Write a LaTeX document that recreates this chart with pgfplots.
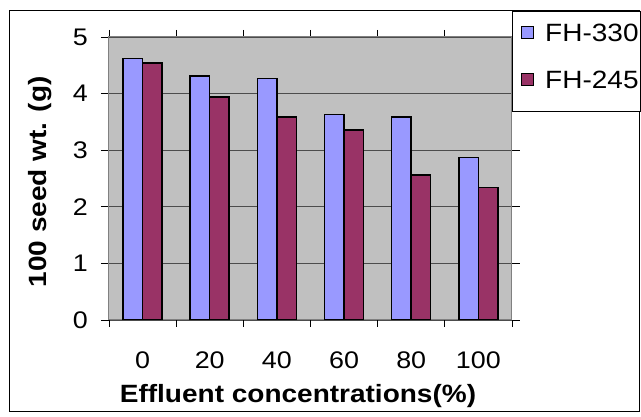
\documentclass[border=0pt]{standalone}
\usepackage{fontspec}
\setmainfont[FakeStretch=1.12]{Liberation Sans}
\usepackage{pgfplots}
\pgfplotsset{compat=1.18}
\definecolor{barA}{HTML}{9999FF}
\definecolor{barB}{HTML}{993366}
\definecolor{plotbg}{HTML}{C0C0C0}
\begin{document}
\begin{tikzpicture}[x=1pt,y=1pt]
\path[use as bounding box] (0,0) rectangle (641,417);
\draw[black, line width=1pt] (9,5) rectangle (639,406);
\begin{axis}[
  at={(109pt,97pt)}, anchor=south west,
  scale only axis, width=403pt, height=283pt,
  xmin=-0.5, xmax=5.5, ymin=0, ymax=5,
  ybar=0pt, bar width=19.5pt,
  axis background/.style={fill=plotbg},
  axis line style={draw=black!50, line width=1pt},
  xtick={0,1,2,3,4,5},
  xticklabels={0,20,40,60,80,100},
  minor xtick={-0.5,0.5,1.5,2.5,3.5,4.5,5.5},
  ytick={0,1,2,3,4,5},
  tick align=outside,
  major tick length=8pt, minor tick length=7pt,
  every major x tick/.style={draw=none},
  every minor x tick/.style={draw=black, line width=0.8pt},
  every major y tick/.style={draw=black, line width=0.8pt},
  ymajorgrids, major grid style={draw=black!70, line width=0.9pt},
  /pgf/number format/assume math mode=true,
  ticklabel style={font=\fontsize{24}{24}\selectfont, inner sep=0pt},
  xticklabel style={yshift=-24pt},
  yticklabel style={xshift=-13pt},
  xlabel={Effluent concentrations(\%)},
  ylabel={100 seed wt. (g)},
  every axis x label/.style={at={(axis description cs:0.469,-0.29)}, anchor=base, font=\bfseries\fontsize{25}{25}\selectfont},
  every axis y label/.style={at={(axis description cs:-0.171,0.488)}, rotate=90, anchor=center, font=\bfseries\fontsize{25}{25}\selectfont},
  legend style={at={(1,1)}, anchor=north west, yshift=26pt, draw=black, line width=1pt,
    fill=white, font=\fontsize{25}{25}\selectfont, inner xsep=2pt, inner ysep=12pt,
    row sep=18pt, column sep=11pt,
    nodes={inner sep=0pt, text height=18pt, text depth=11pt, anchor=base west}},
  legend cell align=left,
  legend image code/.code={\path[draw=none,fill=none] (0pt,9pt) -- (19pt,9pt);\draw[#1,/tikz/.cd,draw=black,line width=1.5pt] (7pt,3pt) rectangle (19pt,15pt);},
]
\addplot[fill=barA, draw=black, line width=1.5pt] coordinates {(0,4.62) (1,4.31) (2,4.27) (3,3.63) (4,3.59) (5,2.87)};
\addplot[fill=barB, draw=black, line width=1.5pt] coordinates {(0,4.54) (1,3.94) (2,3.59) (3,3.36) (4,2.56) (5,2.34)};
\legend{FH-330, FH-245}
\end{axis}
\end{tikzpicture}
\end{document}
